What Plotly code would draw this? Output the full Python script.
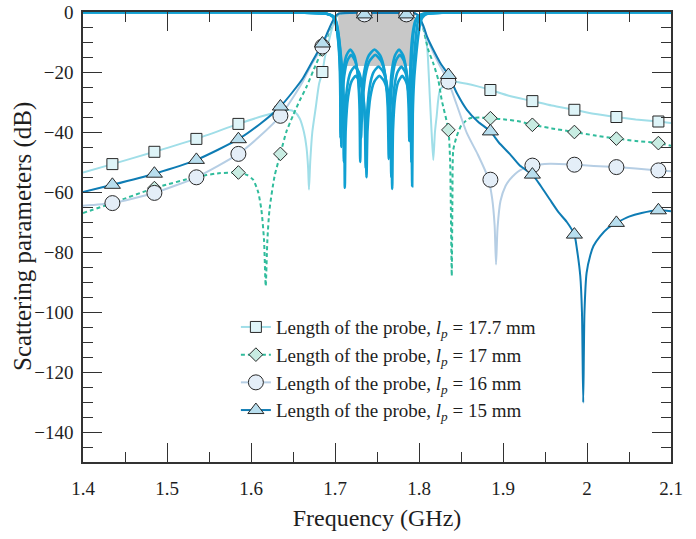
import plotly.graph_objects as go

# ---------------- data ----------------
x_ticks = [1.4, 1.5, 1.6, 1.7, 1.8, 1.9, 2.0, 2.1]
x_tick_labels = ["1.4", "1.5", "1.6", "1.7", "1.8", "1.9", "2", "2.1"]

# shaded passband region
mask_freq = [1.7037, 1.7953, 1.7927, 1.7058]
mask_db = [0.0, 0.0, -18.0, -18.0]

# |S21| for each probe length
freq_177 = [1.400, 1.435, 1.485, 1.535, 1.585, 1.615, 1.635, 1.645, 1.652, 1.658, 1.663, 1.666,
            1.668, 1.669, 1.6705, 1.673, 1.677, 1.681, 1.685, 1.688, 1.692, 1.696, 1.700, 1.705,
            1.720, 1.750, 1.780, 1.795, 1.800, 1.805, 1.808, 1.810, 1.813, 1.815, 1.817, 1.819,
            1.821, 1.825, 1.835, 1.845, 1.857, 1.870, 1.885, 1.908, 1.935, 1.958, 1.985, 2.008,
            2.035, 2.058, 2.085, 2.100]
s21_177 = [-53.5, -50.7, -46.6, -42.3, -37.3, -34.6, -33.2, -32.7, -33.3, -35.5, -40.0, -45.0,
           -52.0, -59.2, -50.0, -40.0, -32.0, -24.0, -20.0, -15.0, -10.5, -6.0, -2.5, -0.6,
           -0.3, -0.3, -0.3, -0.5, -1.5, -5.0, -8.5, -12.6, -29.0, -40.0, -49.3, -40.0,
           -34.8, -26.0, -23.2, -23.3, -23.9, -24.8, -26.0, -28.0, -29.7, -31.2, -32.6, -33.9,
           -35.0, -35.8, -36.5, -37.0]

freq_17 = [1.400, 1.435, 1.485, 1.535, 1.560, 1.585, 1.595, 1.6025, 1.6085, 1.6124, 1.6155, 1.6175,
           1.6195, 1.622, 1.628, 1.635, 1.642, 1.650, 1.658, 1.666, 1.675, 1.685, 1.690, 1.695,
           1.700, 1.705, 1.720, 1.750, 1.780, 1.795, 1.800, 1.805, 1.811, 1.817, 1.8229, 1.827,
           1.835, 1.837, 1.8378, 1.839, 1.8398, 1.8408, 1.8448, 1.8508, 1.8607, 1.8726, 1.885,
           1.9044, 1.920, 1.935, 1.958, 1.985, 2.008, 2.035, 2.058, 2.085, 2.100]
s21_17 = [-67.0, -63.7, -58.7, -55.0, -53.8, -53.5, -54.3, -55.9, -60.0, -66.0, -76.0, -91.4,
          -76.0, -65.9, -54.8, -47.3, -40.0, -34.5, -29.5, -25.0, -19.0, -12.5, -9.0, -5.0,
          -2.0, -0.6, -0.3, -0.3, -0.3, -0.5, -2.0, -5.5, -12.6, -17.1, -22.6, -29.3,
          -39.3, -49.3, -62.6, -88.0, -62.0, -46.0, -41.5, -37.6, -35.4, -35.2, -35.4,
          -35.9, -36.5, -37.6, -38.8, -40.0, -41.1, -42.2, -43.0, -43.7, -44.6]

freq_16 = [1.400, 1.435, 1.485, 1.535, 1.585, 1.610, 1.635, 1.650, 1.662, 1.672, 1.685, 1.690,
           1.695, 1.700, 1.705, 1.720, 1.750, 1.780, 1.795, 1.800, 1.805, 1.810, 1.817, 1.825,
           1.835, 1.845, 1.857, 1.870, 1.8825, 1.887, 1.890, 1.8917, 1.8935, 1.897, 1.903, 1.908,
           1.920, 1.935, 1.956, 1.985, 2.008, 2.035, 2.058, 2.085, 2.100]
s21_16 = [-64.6, -63.7, -60.3, -55.1, -47.3, -41.5, -34.6, -28.5, -23.0, -17.5, -11.5, -8.0,
          -4.8, -1.8, -0.6, -0.3, -0.3, -0.3, -0.5, -1.8, -5.0, -9.0, -13.5, -18.0,
          -23.2, -31.0, -40.4, -47.5, -55.5, -62.0, -71.0, -84.2, -72.0, -63.0, -58.0, -55.9,
          -52.8, -51.2, -50.6, -50.9, -51.3, -51.7, -52.2, -52.8, -53.1]

freq_15 = [1.400, 1.435, 1.485, 1.535, 1.585, 1.610, 1.635, 1.650, 1.662, 1.674, 1.685, 1.690,
           1.695, 1.700, 1.705, 1.720, 1.750, 1.780, 1.795, 1.800, 1.805, 1.810, 1.817, 1.825,
           1.835, 1.845, 1.857, 1.870, 1.885, 1.895, 1.908, 1.920, 1.935, 1.945, 1.956, 1.966,
           1.976, 1.985, 1.988, 1.992, 1.994, 1.9955, 1.997, 1.9995, 2.004, 2.0077, 2.0155, 2.025,
           2.035, 2.050, 2.065, 2.085, 2.100]
s21_15 = [-60.0, -57.6, -53.9, -49.3, -42.4, -37.5, -31.5, -26.5, -22.0, -16.0, -10.5, -7.5,
          -4.3, -1.6, -0.5, -0.3, -0.3, -0.3, -0.4, -1.5, -4.5, -8.5, -12.6, -16.8,
          -21.0, -27.0, -32.6, -36.5, -39.8, -43.5, -47.3, -51.2, -54.2, -58.0, -62.6, -66.7,
          -70.0, -74.2, -79.0, -88.0, -100.0, -130.2, -100.0, -87.0, -81.0, -78.0, -74.8, -72.0,
          -70.3, -68.2, -67.0, -66.1, -66.4]

# marker positions shared by all four S21 traces
marker_freq = [1.435, 1.485, 1.535, 1.585, 1.635, 1.685, 1.735,
               1.785, 1.835, 1.885, 1.935, 1.985, 2.035, 2.085]
marker_177 = [-50.7, -46.6, -42.3, -37.3, -33.2, -20.0, -0.8, -0.8, -23.2, -26.0, -29.7, -32.6, -35.0, -36.5]
marker_17 = [-63.7, -58.7, -55.0, -53.5, -47.3, -12.5, -0.8, -0.8, -39.3, -35.4, -37.6, -40.0, -42.2, -43.7]
marker_16 = [-63.7, -60.3, -55.1, -47.3, -34.6, -11.5, -0.8, -0.8, -23.2, -55.9, -51.2, -50.9, -51.7, -52.8]
marker_15 = [-57.6, -53.9, -49.3, -42.4, -31.5, -10.5, -0.8, -0.8, -21.0, -39.8, -54.2, -74.2, -70.3, -66.1]

# |S11| in the passband (one per probe length)
freq_s11_a = [1.400, 1.660, 1.690, 1.697, 1.700, 1.7025, 1.7045, 1.7058, 1.7063, 1.7065,
              1.7074, 1.7100, 1.7136, 1.71825, 1.7230, 1.7265, 1.7291, 1.7300,
              1.7314, 1.7351, 1.7402, 1.7470, 1.7538, 1.7589, 1.7626, 1.7640,
              1.7650, 1.7677, 1.7714, 1.77625, 1.7812, 1.7848, 1.7875, 1.7885,
              1.7888, 1.7895, 1.7908, 1.7928, 1.7955, 1.7985, 1.805, 1.830, 2.100]
s11_a = [-0.1, -0.2, -0.6, -1.5, -3.0, -6.5, -12.0, -20.0, -28.0, -42.0,
         -30.5, -19.5, -14.5, -12.5, -14.5, -19.5, -30.5, -50.0,
         -30.5, -19.5, -14.5, -12.5, -14.5, -19.5, -30.5, -49.0,
         -30.5, -19.5, -14.5, -12.5, -14.5, -19.5, -30.5, -43.0,
         -28.0, -20.0, -12.0, -6.5, -3.0, -1.5, -0.6, -0.2, -0.1]

freq_s11_b = [1.400, 1.660, 1.690, 1.698, 1.7005, 1.703, 1.705, 1.7065, 1.7072, 1.7075,
              1.7084, 1.7110, 1.7146, 1.71925, 1.7240, 1.7275, 1.7301, 1.7310,
              1.7324, 1.7361, 1.7412, 1.7480, 1.7548, 1.7599, 1.7636, 1.7650,
              1.7660, 1.7687, 1.7724, 1.77725, 1.7822, 1.7858, 1.7885, 1.7895,
              1.7898, 1.7905, 1.7918, 1.7935, 1.7960, 1.7990, 1.806, 1.830, 2.100]
s11_b = [-0.1, -0.2, -0.6, -1.6, -3.2, -7.0, -13.0, -21.0, -30.0, -45.0,
         -32.3, -21.3, -16.3, -14.3, -16.3, -21.3, -32.3, -42.0,
         -32.3, -21.3, -16.3, -14.3, -16.3, -21.3, -32.3, -46.0,
         -32.3, -21.3, -16.3, -14.3, -16.3, -21.3, -32.3, -41.0,
         -29.0, -21.0, -13.0, -7.0, -3.2, -1.5, -0.6, -0.2, -0.1]

freq_s11_c = [1.400, 1.660, 1.690, 1.699, 1.7015, 1.704, 1.7065, 1.7085, 1.7098, 1.7105,
              1.7115, 1.7144, 1.7183, 1.7235, 1.7287, 1.7326, 1.7355, 1.7365,
              1.7377, 1.7411, 1.74565, 1.75175, 1.75785, 1.7624, 1.7658, 1.7670,
              1.76796, 1.7706, 1.7742, 1.7790, 1.7838, 1.7874, 1.79004, 1.7910,
              1.7916, 1.7927, 1.7945, 1.7965, 1.7985, 1.8010, 1.807, 1.830, 2.100]
s11_c = [-0.1, -0.2, -0.6, -1.7, -3.5, -7.5, -14.0, -22.0, -32.0, -50.0,
         -36.2, -25.2, -20.2, -18.2, -20.2, -25.2, -36.2, -52.0,
         -36.2, -25.2, -20.2, -18.2, -20.2, -25.2, -36.2, -55.0,
         -36.2, -25.2, -20.2, -18.2, -20.2, -25.2, -36.2, -50.0,
         -32.0, -22.0, -14.0, -7.5, -3.5, -1.7, -0.6, -0.2, -0.1]

freq_s11_d = [1.400, 1.660, 1.690, 1.6995, 1.702, 1.7045, 1.707, 1.7095, 1.711, 1.7117,
              1.7127, 1.7156, 1.71944, 1.7246, 1.72976, 1.73363, 1.73652, 1.7375,
              1.73872, 1.74209, 1.74668, 1.7528, 1.75892, 1.76351, 1.76688, 1.7681,
              1.76905, 1.77167, 1.77524, 1.7800, 1.78476, 1.78833, 1.79095, 1.7919,
              1.7926, 1.7941, 1.7966, 1.7991, 1.8016, 1.8041, 1.810, 1.830, 2.100]
s11_d = [-0.1, -0.2, -0.6, -1.8, -3.7, -8.0, -14.5, -23.0, -34.0, -58.6,
         -39.3, -28.3, -23.3, -21.3, -23.3, -28.3, -39.3, -55.1,
         -39.3, -28.3, -23.3, -21.3, -23.3, -28.3, -39.3, -59.0,
         -39.3, -28.3, -23.3, -21.3, -23.3, -28.3, -39.3, -58.1,
         -34.0, -23.0, -14.5, -8.0, -3.7, -1.8, -0.6, -0.2, -0.1]

# ---------------- styling ----------------
FONT = "Liberation Serif"
C_177 = "rgb(160,222,232)"
C_17 = "rgb(48,188,156)"
C_16 = "rgb(182,206,228)"
C_15 = "rgb(14,124,180)"
C_S11 = "rgb(16,160,210)"
EDGE = "rgb(40,40,40)"

series = [
    ("Length of the probe, <i>l</i><sub><i>p</i></sub> = 17.7 mm", freq_177, s21_177, marker_177,
     C_177, "solid", "square", 11, "rgb(222,244,248)"),
    ("Length of the probe, <i>l</i><sub><i>p</i></sub> = 17 mm", freq_17, s21_17, marker_17,
     C_17, "4px,3px", "diamond", 10.5, "rgb(200,236,226)"),
    ("Length of the probe, <i>l</i><sub><i>p</i></sub> = 16 mm", freq_16, s21_16, marker_16,
     C_16, "solid", "circle", 15, "rgb(228,238,248)"),
    ("Length of the probe, <i>l</i><sub><i>p</i></sub> = 15 mm", freq_15, s21_15, marker_15,
     C_15, "solid", "triangle-up", 14, "rgb(184,222,238)"),
]

fig = go.Figure()

# grey passband band
fig.add_trace(go.Scatter(x=mask_freq, y=mask_db, fill="toself", mode="lines",
                         fillcolor="rgb(200,200,200)", line=dict(width=0),
                         showlegend=False, hoverinfo="skip"))

# S21 curves
for name, fx, fy, my, col, dash, sym, sz, fill in series:
    fig.add_trace(go.Scatter(x=fx, y=fy, mode="lines",
                             line=dict(color=col, width=2, dash=dash, shape="spline", smoothing=0.6),
                             showlegend=False))

# S11 curves
for fx, fy in [(freq_s11_a, s11_a), (freq_s11_b, s11_b), (freq_s11_c, s11_c), (freq_s11_d, s11_d)]:
    fig.add_trace(go.Scatter(x=fx, y=fy, mode="lines",
                             line=dict(color=C_S11, width=2.6, shape="spline", smoothing=0.6),
                             showlegend=False))

# markers
for name, fx, fy, my, col, dash, sym, sz, fill in series:
    fig.add_trace(go.Scatter(x=marker_freq, y=my, mode="markers",
                             marker=dict(symbol=sym, size=sz, color=fill,
                                         line=dict(color=EDGE, width=1)),
                             showlegend=False))

# legend entries
for name, fx, fy, my, col, dash, sym, sz, fill in series:
    fig.add_trace(go.Scatter(x=[None], y=[None], mode="lines+markers", name=name,
                             line=dict(color=col, width=2, dash=dash),
                             marker=dict(symbol=sym, size=sz, color=fill,
                                         line=dict(color=EDGE, width=1))))

axis_common = dict(
    showline=True, linecolor="rgb(50,50,50)", linewidth=1.5, mirror="allticks",
    ticks="inside", ticklen=19, tickwidth=1.3, tickcolor="rgb(50,50,50)",
    showgrid=False, zeroline=False, automargin=False,
    tickfont=dict(family=FONT, size=19, color="rgb(30,30,30)"),
)

fig.update_layout(
    width=696, height=539,
    margin=dict(l=83, r=25, t=12, b=77),
    paper_bgcolor="white", plot_bgcolor="white",
    font=dict(family=FONT, color="rgb(30,30,30)"),
    xaxis=dict(range=[1.4, 2.1], tickvals=x_ticks, ticktext=x_tick_labels,
               minor=dict(dtick=0.05, tick0=1.4, ticks="inside", ticklen=10, tickwidth=1.2,
                          tickcolor="rgb(50,50,50)"),
               ticklabelstandoff=8,
               title=dict(text="Frequency (GHz)", font=dict(family=FONT, size=24), standoff=12),
               **axis_common),
    yaxis=dict(range=[-150, 0], dtick=20, tick0=0,
               minor=dict(dtick=5, tick0=0, ticks="inside", ticklen=10, tickwidth=1.2,
                          tickcolor="rgb(50,50,50)"),
               ticklabelstandoff=4,
               **axis_common),
    annotations=[dict(text="Scattering parameters (dB)", textangle=-90,
                      xref="paper", yref="paper", x=-0.102, y=0.5,
                      xanchor="center", yanchor="middle", showarrow=False,
                      font=dict(family=FONT, size=25, color="rgb(30,30,30)"))],
    legend=dict(x=0.26, y=0.342, xanchor="left", yanchor="top",
                bgcolor="rgba(0,0,0,0)", font=dict(family=FONT, size=19, color="rgb(30,30,30)"),
                itemwidth=30, tracegroupgap=0),
    showlegend=True,
)

fig.write_html("out.html")
